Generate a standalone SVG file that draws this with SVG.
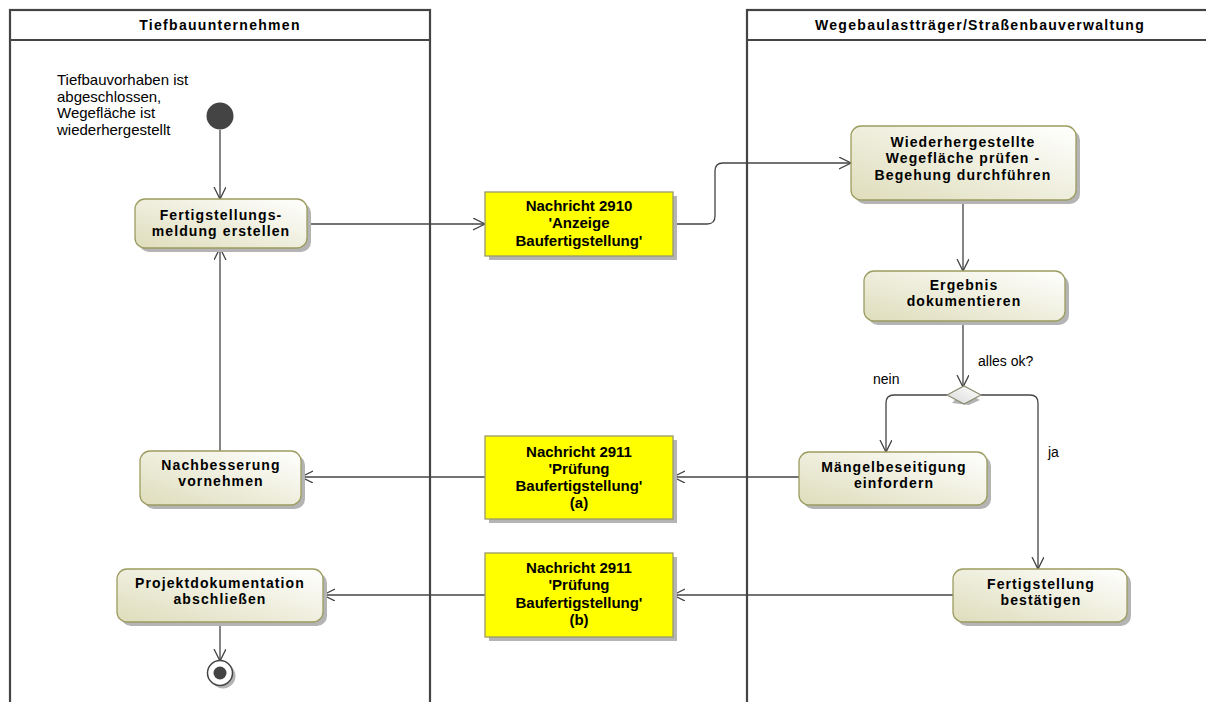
<svg xmlns="http://www.w3.org/2000/svg" width="1206" height="702" viewBox="0 0 1206 702">
<defs>
<linearGradient id="act" x1="0" y1="1" x2="1" y2="0">
<stop offset="0" stop-color="#deddbb"/>
<stop offset="1" stop-color="#ffffff"/>
</linearGradient>
<linearGradient id="dia" x1="0" y1="1" x2="1" y2="0">
<stop offset="0" stop-color="#d8d8d8"/>
<stop offset="1" stop-color="#ffffff"/>
</linearGradient>
<marker id="arr" markerUnits="userSpaceOnUse" markerWidth="14" markerHeight="14" refX="12" refY="6" orient="auto">
<path d="M0,0 L12,6 L0,12" fill="none" stroke="#444" stroke-width="1.3"/>
</marker>
<style>
.lane{fill:none;stroke:#444;stroke-width:2.2}
.hdr{font-family:"Liberation Sans",Arial,sans-serif;font-weight:bold;font-size:14px;letter-spacing:1.3px;fill:#000;text-anchor:middle}
.act{fill:url(#act);stroke:#9c9c60;stroke-width:1.3}
.sh{fill:#b4b4b4}
.msg{fill:#ffff00;stroke:#9a9a6a;stroke-width:1.3}
.at{font-family:"Liberation Sans",Arial,sans-serif;font-weight:bold;font-size:14px;letter-spacing:1.1px;fill:#000;text-anchor:middle}
.mt{font-family:"Liberation Sans",Arial,sans-serif;font-weight:bold;font-size:15px;fill:#000;text-anchor:middle}
.lbl{font-family:"Liberation Sans",Arial,sans-serif;font-size:14px;fill:#000}
.note{font-family:"Liberation Sans",Arial,sans-serif;font-size:15px;fill:#000}
.c{fill:none;stroke:#444;stroke-width:1.3;marker-end:url(#arr)}
</style>
</defs>
<rect width="1206" height="702" fill="#ffffff"/>

<g id="lane-tiefbau">
<rect class="lane" x="10" y="10" width="420" height="720"/>
<line class="lane" x1="10" y1="40" x2="430" y2="40"/>
<text class="hdr" x="220" y="30">Tiefbauunternehmen</text>
</g>
<g id="lane-wegebau">
<rect class="lane" x="747" y="10" width="470" height="720"/>
<line class="lane" x1="747" y1="40" x2="1217" y2="40"/>
<text class="hdr" x="980" y="30">Wegebaulastträger/Straßenbauverwaltung</text>
</g>

<g id="connectors">
<path class="c" d="M220,130 V199"/>
<path class="c" d="M307,224 H485"/>
<path class="c" d="M673,224 H707 Q715,224 715,216 V171 Q715,163 723,163 H851"/>
<path class="c" d="M963,200 V271"/>
<path class="c" d="M963,321 V387"/>
<path class="c" d="M947,395 H894 Q886,395 886,403 V452"/>
<path class="c" d="M981,395 H1030 Q1038,395 1038,403 V569"/>
<path class="c" d="M799,477 H673"/>
<path class="c" d="M485,477 H301"/>
<path class="c" d="M220,451 V248"/>
<path class="c" d="M953,595 H673"/>
<path class="c" d="M485,595 H323"/>
<path class="c" d="M220,622 V661"/>
<text class="lbl" x="978" y="366">alles ok?</text>
<text class="lbl" x="873" y="384">nein</text>
<text class="lbl" x="1048" y="457">ja</text>
</g>

<g id="start">
<circle cx="220" cy="116" r="13.5" fill="#444"/>
<text class="note" x="57" y="85">Tiefbauvorhaben ist</text>
<text class="note" x="57" y="101.5">abgeschlossen,</text>
<text class="note" x="57" y="118">Wegefläche ist</text>
<text class="note" x="57" y="134.5">wiederhergestellt</text>
</g>

<g id="a-fertigstellungsmeldung">
<rect class="sh" x="139" y="203" width="172" height="49" rx="10"/>
<rect class="act" x="135" y="199" width="172" height="49" rx="10"/>
<text class="at" x="221" y="220">Fertigstellungs-</text>
<text class="at" x="221" y="236">meldung erstellen</text>
</g>

<g id="m-2910">
<rect class="sh" x="489" y="196" width="188" height="64"/>
<rect class="msg" x="485" y="192" width="188" height="64"/>
<text class="mt" x="579" y="211">Nachricht 2910</text>
<text class="mt" x="579" y="228">'Anzeige</text>
<text class="mt" x="579" y="246">Baufertigstellung'</text>
</g>

<g id="a-pruefen">
<rect class="sh" x="855" y="130" width="225" height="74" rx="10"/>
<rect class="act" x="851" y="126" width="225" height="74" rx="10"/>
<text class="at" x="963" y="146.5">Wiederhergestellte</text>
<text class="at" x="963" y="163">Wegefläche prüfen -</text>
<text class="at" x="963" y="179.5">Begehung durchführen</text>
</g>

<g id="a-ergebnis">
<rect class="sh" x="868" y="275" width="201" height="50" rx="10"/>
<rect class="act" x="864" y="271" width="201" height="50" rx="10"/>
<text class="at" x="964" y="290">Ergebnis</text>
<text class="at" x="964" y="306">dokumentieren</text>
</g>

<g id="decision">
<polygon points="963,391 980,400 969,405 952,403" fill="#b4b4b4"/>
<polygon points="947,395 964,386 981,395 964,404" fill="url(#dia)" stroke="#8c8c70" stroke-width="1.2"/>
</g>

<g id="a-maengel">
<rect class="sh" x="803" y="456" width="188" height="53" rx="10"/>
<rect class="act" x="799" y="452" width="188" height="53" rx="10"/>
<text class="at" x="894" y="472">Mängelbeseitigung</text>
<text class="at" x="894" y="488">einfordern</text>
</g>

<g id="a-bestaetigen">
<rect class="sh" x="957" y="573" width="174" height="53" rx="10"/>
<rect class="act" x="953" y="569" width="174" height="53" rx="10"/>
<text class="at" x="1041" y="589">Fertigstellung</text>
<text class="at" x="1041" y="605">bestätigen</text>
</g>

<g id="m-2911a">
<rect class="sh" x="489" y="440" width="188" height="83"/>
<rect class="msg" x="485" y="436" width="188" height="83"/>
<text class="mt" x="579" y="457">Nachricht 2911</text>
<text class="mt" x="579" y="474">'Prüfung</text>
<text class="mt" x="579" y="491">Baufertigstellung'</text>
<text class="mt" x="579" y="508">(a)</text>
</g>

<g id="m-2911b">
<rect class="sh" x="489" y="557" width="188" height="84"/>
<rect class="msg" x="485" y="553" width="188" height="84"/>
<text class="mt" x="579" y="573">Nachricht 2911</text>
<text class="mt" x="579" y="590">'Prüfung</text>
<text class="mt" x="579" y="608">Baufertigstellung'</text>
<text class="mt" x="579" y="625">(b)</text>
</g>

<g id="a-nachbesserung">
<rect class="sh" x="144" y="455" width="161" height="54" rx="10"/>
<rect class="act" x="140" y="451" width="161" height="54" rx="10"/>
<text class="at" x="221" y="470">Nachbesserung</text>
<text class="at" x="221" y="486">vornehmen</text>
</g>

<g id="a-projektdoku">
<rect class="sh" x="121" y="573" width="206" height="53" rx="10"/>
<rect class="act" x="117" y="569" width="206" height="53" rx="10"/>
<text class="at" x="220" y="588">Projektdokumentation</text>
<text class="at" x="220" y="604">abschließen</text>
</g>

<g id="end">
<circle cx="223" cy="676" r="12.5" fill="#b4b4b4"/>
<circle cx="220" cy="673" r="12.5" fill="#ffffff" stroke="#444" stroke-width="1.5"/>
<circle cx="220" cy="673" r="6.5" fill="#444"/>
</g>
</svg>
